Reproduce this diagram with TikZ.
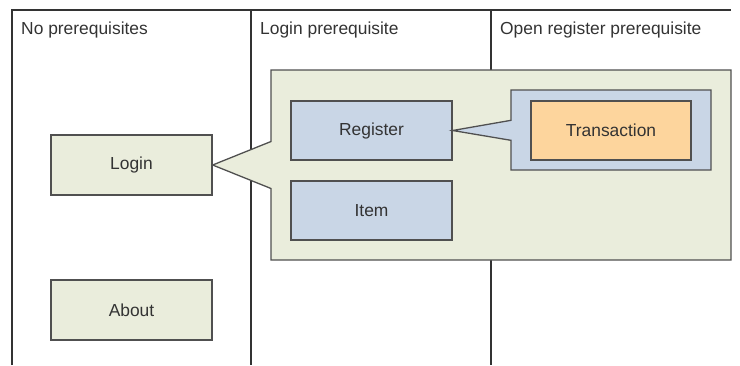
\documentclass[tikz,border=0pt]{standalone}
\usepackage{fontspec}
\setmainfont{Liberation Sans}
\usetikzlibrary{shapes.callouts}
\definecolor{gfill}{HTML}{EAEDDC}
\definecolor{bfill}{HTML}{C9D6E6}
\definecolor{ofill}{HTML}{FDD59D}
\definecolor{edge}{HTML}{505050}
\definecolor{frame}{HTML}{333333}
\definecolor{txt}{HTML}{333333}
\begin{document}
\begin{tikzpicture}[x=1pt,y={(0,-1pt)},
  every node/.style={font=\fontsize{17.4}{21}\selectfont, text=txt},
  box/.style={draw=edge, line width=1.3pt, inner sep=0pt, minimum width=161pt, minimum height=60pt},
  greenbox/.style={box, fill=gfill},
  bluebox/.style={box, fill=bfill},
  orangebox/.style={box, fill=ofill},
  callbox/.style={rectangle callout, draw=edge, line width=1.3pt, inner sep=0pt},
  colline/.style={draw=frame, line width=1.3pt},
  header/.style={anchor=base west, inner sep=0pt}]
\useasboundingbox (0,0) rectangle (740,365);
% frame
\coordinate (f1) at (12,365);
\coordinate (f2) at (12,10);
\coordinate (f3) at (731,10);
\coordinate (c2t) at (251,10);
\coordinate (c2b) at (251,365);
\coordinate (c3t) at (491,10);
\coordinate (c3b) at (491,365);
\draw[colline] (f1) -- (f2) -- (f3);
\draw[colline] (c2t) -- (c2b);
\draw[colline] (c3t) -- (c3b);
% headers
\node[header] (h1) at (21,34) {No prerequisites};
\node[header] (h2) at (260,34) {Login prerequisite};
\node[header] (h3) at (500,34) {Open register prerequisite};
% left column
\node[greenbox] (login) at (131.5,165) {Login};
\node[greenbox] (about) at (131.5,310) {About};
% container
\node[callbox, fill=gfill, minimum width=460pt, minimum height=190pt,
      callout pointer width=47pt, callout absolute pointer={(login.east)}] (cont) at (501,165) {};
\node[bluebox, minimum height=59pt] (register) at (371.5,130.5) {Register};
\node[bluebox, minimum height=59pt] (item) at (371.5,210.5) {Item};
% transaction
\node[callbox, fill=bfill, minimum width=200pt, minimum height=80pt,
      callout pointer width=20pt, callout absolute pointer={(register.east)}] (tcont) at (611,130) {};
\node[orangebox, minimum width=160pt, minimum height=59pt] (trans) at (611,130.5) {Transaction};
\end{tikzpicture}
\end{document}
